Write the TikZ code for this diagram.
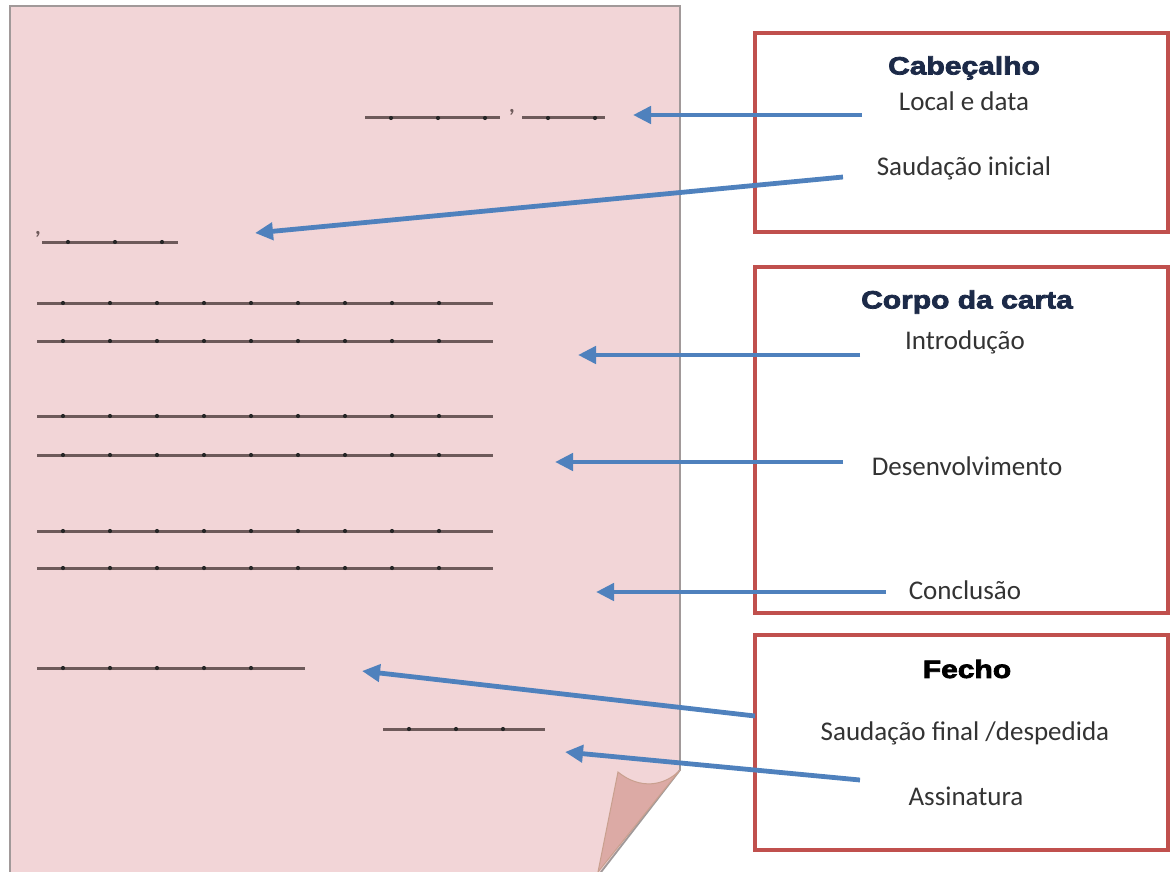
\documentclass[tikz,border=0pt]{standalone}
\usepackage{fontspec}
\setmainfont{Carlito}
\newfontfamily\headfont[FakeStretch=1.2,FakeBold=3]{Liberation Sans}
\usetikzlibrary{arrows.meta}

\definecolor{paper}{HTML}{F2D5D7}
\definecolor{paperedge}{HTML}{A19999}
\definecolor{flap}{HTML}{DCAAA5}
\definecolor{flapedge}{HTML}{C9A08F}
\definecolor{boxred}{HTML}{C0504D}
\definecolor{arrowblue}{HTML}{4F81BD}
\definecolor{navy}{HTML}{1C2A48}
\definecolor{ink}{HTML}{6E5A5A}

% one written line of the letter, with its dots
\newcommand\writtenline[3]{%
  \draw[ink, line width=3pt] (#1,#3) -- (#2,#3);
  \pgfmathsetmacro\dfirst{#1+26}
  \pgfmathsetmacro\dsecond{#1+73}
  \pgfmathsetmacro\dlast{#2-8}
  \foreach \d in {\dfirst,\dsecond,...,\dlast}
    \fill[black!85] (\d,#3) circle (2.1pt);
}

\begin{document}
\begin{tikzpicture}[x=1pt,y=-1pt,
    part/.style={draw=boxred, line width=4pt, rectangle, minimum width=413pt},
    head/.style={font=\headfont\bfseries\fontsize{25}{29}\selectfont, text=navy},
    item/.style={font=\fontsize{27}{31}\selectfont, text=black!80},
    pointer/.style={draw=arrowblue, line width=4.8pt,
      -{Triangle[length=18pt,width=17pt]}}]

  \useasboundingbox (0,0) rectangle (1170,872);

  % the letter sheet
  \draw[paperedge, fill=paper, line width=1.8pt]
    (10,6) -- (680,6) -- (680,770) -- (598,876) -- (10,876) -- cycle;
  \draw[flapedge, fill=flap, line width=1pt]
    (618,772) .. controls (640,790) and (665,786) .. (680,770) -- (598,872) -- cycle;

  % place, date and greeting
  \writtenline{365}{500}{118}
  \node[ink, font=\bfseries\fontsize{22}{24}\selectfont] (comma1) at (512,112) {,};
  \writtenline{522}{605}{118}
  \node[ink, font=\bfseries\fontsize{22}{24}\selectfont] (comma2) at (38,234) {,};
  \writtenline{42}{178}{242}

  % body lines
  \foreach \y in {303,341,416,455,531,568}{
    \writtenline{37}{493}{\y}
  }

  % closing and signature
  \writtenline{37}{305}{668}
  \writtenline{383}{545}{729}

  % the three parts
  \node[part, minimum height=199pt] (cab) at (961.5,132.5) {};
  \node[part, minimum height=346pt] (corpo) at (961.5,440) {};
  \node[part, minimum height=215pt] (fecho) at (961.5,742.5) {};

  \node[head] (cabT) at (964,68) {Cabeçalho};
  \node[item] (local) at (964,101) {Local e data};
  \node[item] (saud) at (964,168) {Saudação inicial};

  \node[head] (corpoT) at (967,302) {Corpo da carta};
  \node[item] (intro) at (965,342) {Introdução};
  \node[item] (desenv) at (967,466) {Desenvolvimento};
  \node[item] (concl) at (965,590) {Conclusão};

  \node[head, text=black] (fechoT) at (967,669) {Fecho};
  \node[item] (final) at (965,733) {Saudação final /despedida};
  \node[item] (assin) at (966,796) {Assinatura};

  % arrows
  \coordinate (s1) at (862,115);  \coordinate (t1) at (633,115);
  \coordinate (s2) at (843,177);  \coordinate (t2) at (255,233);
  \coordinate (s3) at (860,355);  \coordinate (t3) at (578,355);
  \coordinate (s4) at (843,462);  \coordinate (t4) at (555,462);
  \coordinate (s5) at (886,592);  \coordinate (t5) at (596,592);
  \coordinate (s6) at (755,716);  \coordinate (t6) at (362,671);
  \coordinate (s7) at (860,780);  \coordinate (t7) at (565,752);
  \foreach \i in {1,...,7}
    \draw[pointer] (s\i) -- (t\i);
\end{tikzpicture}
\end{document}
